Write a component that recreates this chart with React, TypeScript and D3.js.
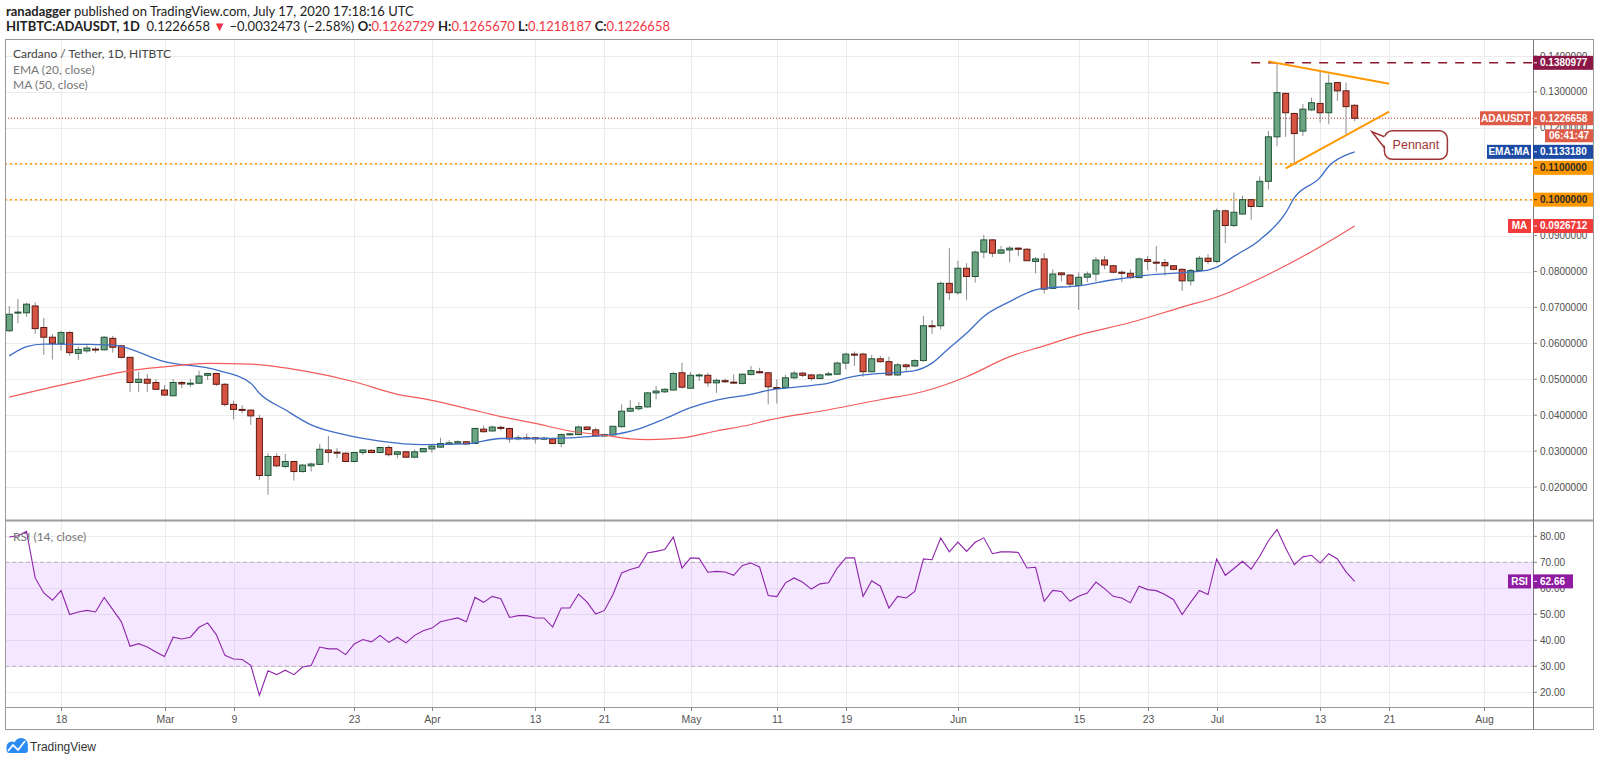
'use client'
import React, { useEffect, useRef } from 'react';
import * as d3 from 'd3';

// HITBTC ADA/USDT daily candles, 12 Feb 2020 -> 17 Jul 2020
const firstDay = '2020-02-12';

const opens = [
  0.0635, 0.0685, 0.0685, 0.0704, 0.0644, 0.0617, 0.0600, 0.0630, 0.0572, 0.0579,
  0.0584, 0.0582, 0.0614, 0.0593, 0.0561, 0.0491, 0.0500, 0.0491, 0.0470, 0.0454,
  0.0491, 0.0487, 0.0489, 0.0511, 0.0516, 0.0486, 0.0430, 0.0416, 0.0414, 0.0391,
  0.0232, 0.0285, 0.0257, 0.0271, 0.0243, 0.0259, 0.0263, 0.0303, 0.0297, 0.0294,
  0.0271, 0.0296, 0.0302, 0.0296, 0.0310, 0.0291, 0.0298, 0.0283, 0.0298, 0.0306,
  0.0311, 0.0319, 0.0322, 0.0326, 0.0321, 0.0361, 0.0356, 0.0366, 0.0363, 0.0334,
  0.0337, 0.0337, 0.0334, 0.0334, 0.0321, 0.0346, 0.0346, 0.0367, 0.0359, 0.0342,
  0.0345, 0.0368, 0.0411, 0.0418, 0.0423, 0.0462, 0.0465, 0.0470, 0.0518, 0.0475,
  0.0510, 0.0511, 0.0490, 0.0496, 0.0492, 0.0488, 0.0513, 0.0521, 0.0518, 0.0477,
  0.0477, 0.0504, 0.0517, 0.0512, 0.0502, 0.0512, 0.0514, 0.0545, 0.0570, 0.0570,
  0.0521, 0.0557, 0.0549, 0.0512, 0.0540, 0.0537, 0.0552, 0.0649, 0.0649, 0.0767,
  0.0741, 0.0809, 0.0786, 0.0854, 0.0888, 0.0851, 0.0860, 0.0865, 0.0862, 0.0828,
  0.0835, 0.0753, 0.0796, 0.0790, 0.0761, 0.0784, 0.0793, 0.0832, 0.0816, 0.0798,
  0.0795, 0.0783, 0.0833, 0.0826, 0.0825, 0.0816, 0.0806, 0.0774, 0.0803, 0.0837,
  0.0828, 0.0969, 0.0928, 0.0960, 0.1000, 0.0981, 0.1051, 0.1175, 0.1296, 0.1240,
  0.1191, 0.1250, 0.1268, 0.1242, 0.1326, 0.1303, 0.1262729,
];
const highs = [
  0.0704, 0.0723, 0.0713, 0.0714, 0.0671, 0.0626, 0.0635, 0.0634, 0.0591, 0.0598,
  0.0591, 0.0621, 0.0621, 0.0596, 0.0561, 0.0521, 0.0514, 0.0500, 0.0484, 0.0500,
  0.0495, 0.0501, 0.0524, 0.0518, 0.0518, 0.0489, 0.0440, 0.0428, 0.0416, 0.0401,
  0.0294, 0.0294, 0.0292, 0.0273, 0.0264, 0.0268, 0.0320, 0.0342, 0.0308, 0.0297,
  0.0298, 0.0305, 0.0305, 0.0312, 0.0316, 0.0301, 0.0300, 0.0305, 0.0309, 0.0319,
  0.0337, 0.0330, 0.0330, 0.0328, 0.0365, 0.0371, 0.0371, 0.0371, 0.0365, 0.0344,
  0.0349, 0.0337, 0.0340, 0.0337, 0.0349, 0.0351, 0.0371, 0.0368, 0.0365, 0.0349,
  0.0370, 0.0430, 0.0442, 0.0437, 0.0464, 0.0481, 0.0475, 0.0520, 0.0546, 0.0520,
  0.0516, 0.0518, 0.0502, 0.0502, 0.0514, 0.0516, 0.0537, 0.0532, 0.0518, 0.0500,
  0.0512, 0.0524, 0.0521, 0.0515, 0.0515, 0.0521, 0.0549, 0.0574, 0.0577, 0.0574,
  0.0568, 0.0565, 0.0563, 0.0545, 0.0543, 0.0556, 0.0676, 0.0665, 0.0772, 0.0865,
  0.0830, 0.0823, 0.0858, 0.0902, 0.0890, 0.0871, 0.0871, 0.0868, 0.0865, 0.0840,
  0.0851, 0.0806, 0.0798, 0.0793, 0.0798, 0.0800, 0.0840, 0.0843, 0.0818, 0.0803,
  0.0806, 0.0839, 0.0843, 0.0871, 0.0835, 0.0818, 0.0809, 0.0807, 0.0843, 0.0848,
  0.0975, 0.0972, 0.1020, 0.1011, 0.1002, 0.1065, 0.1191, 0.1380977, 0.1298, 0.1242,
  0.1266, 0.1284, 0.1359, 0.1349, 0.1328, 0.1326, 0.1265670,
];
const lows = [
  0.0632, 0.0656, 0.0674, 0.0626, 0.0568, 0.0555, 0.0580, 0.0565, 0.0554, 0.0574,
  0.0574, 0.0580, 0.0574, 0.0558, 0.0465, 0.0465, 0.0465, 0.0470, 0.0453, 0.0453,
  0.0475, 0.0478, 0.0487, 0.0498, 0.0481, 0.0424, 0.0388, 0.0405, 0.0373, 0.0220,
  0.0178, 0.0255, 0.0252, 0.0218, 0.0240, 0.0243, 0.0261, 0.0268, 0.0280, 0.0269,
  0.0268, 0.0289, 0.0294, 0.0294, 0.0285, 0.0280, 0.0281, 0.0280, 0.0297, 0.0295,
  0.0309, 0.0318, 0.0320, 0.0318, 0.0320, 0.0351, 0.0355, 0.0357, 0.0323, 0.0330,
  0.0332, 0.0321, 0.0330, 0.0320, 0.0311, 0.0344, 0.0344, 0.0358, 0.0341, 0.0340,
  0.0344, 0.0365, 0.0410, 0.0413, 0.0421, 0.0444, 0.0462, 0.0469, 0.0474, 0.0474,
  0.0495, 0.0479, 0.0462, 0.0490, 0.0488, 0.0486, 0.0511, 0.0516, 0.0430, 0.0432,
  0.0475, 0.0500, 0.0506, 0.0496, 0.0501, 0.0510, 0.0512, 0.0528, 0.0537, 0.0507,
  0.0519, 0.0546, 0.0510, 0.0509, 0.0522, 0.0534, 0.0549, 0.0626, 0.0639, 0.0721,
  0.0735, 0.0721, 0.0769, 0.0837, 0.0840, 0.0849, 0.0825, 0.0843, 0.0829, 0.0795,
  0.0739, 0.0751, 0.0772, 0.0755, 0.0693, 0.0770, 0.0772, 0.0806, 0.0795, 0.0770,
  0.0779, 0.0781, 0.0803, 0.0800, 0.0788, 0.0803, 0.0746, 0.0761, 0.0802, 0.0820,
  0.0823, 0.0879, 0.0924, 0.0958, 0.0944, 0.0979, 0.1028, 0.1149, 0.1175, 0.1102,
  0.1177, 0.1247, 0.1214, 0.1210, 0.1275, 0.1182, 0.1218187,
];
const closes = [
  0.0681, 0.0687, 0.0709, 0.0641, 0.0617, 0.0600, 0.0630, 0.0574, 0.0583, 0.0587,
  0.0582, 0.0617, 0.0589, 0.0561, 0.0491, 0.0500, 0.0489, 0.0472, 0.0456, 0.0491,
  0.0487, 0.0489, 0.0509, 0.0516, 0.0486, 0.0430, 0.0416, 0.0414, 0.0398, 0.0232,
  0.0285, 0.0259, 0.0271, 0.0243, 0.0261, 0.0264, 0.0305, 0.0296, 0.0295, 0.0271,
  0.0296, 0.0303, 0.0296, 0.0310, 0.0290, 0.0298, 0.0283, 0.0298, 0.0307, 0.0314,
  0.0321, 0.0323, 0.0326, 0.0320, 0.0363, 0.0354, 0.0367, 0.0364, 0.0334, 0.0337,
  0.0335, 0.0334, 0.0336, 0.0321, 0.0346, 0.0348, 0.0367, 0.0360, 0.0342, 0.0346,
  0.0369, 0.0411, 0.0419, 0.0424, 0.0462, 0.0467, 0.0472, 0.0516, 0.0478, 0.0511,
  0.0512, 0.0490, 0.0497, 0.0493, 0.0490, 0.0514, 0.0524, 0.0518, 0.0479, 0.0475,
  0.0504, 0.0517, 0.0511, 0.0502, 0.0512, 0.0515, 0.0545, 0.0570, 0.0569, 0.0521,
  0.0557, 0.0549, 0.0512, 0.0540, 0.0535, 0.0552, 0.0649, 0.0647, 0.0767, 0.0741,
  0.0809, 0.0786, 0.0854, 0.0888, 0.0851, 0.0860, 0.0865, 0.0862, 0.0830, 0.0835,
  0.0751, 0.0793, 0.0791, 0.0765, 0.0784, 0.0793, 0.0832, 0.0818, 0.0798, 0.0795,
  0.0783, 0.0835, 0.0828, 0.0825, 0.0816, 0.0806, 0.0774, 0.0803, 0.0837, 0.0828,
  0.0969, 0.0928, 0.0965, 0.1000, 0.0981, 0.1051, 0.1175, 0.1298, 0.1242, 0.1184,
  0.1252, 0.1270, 0.1242, 0.1324, 0.1303, 0.1259, 0.1226658,
];

const rsiValues = [
  79.7, 80.2, 81.9, 64.0, 58.2, 55.4, 59.1, 49.9, 50.9, 51.5,
  50.9, 56.5, 51.8, 47.1, 37.7, 38.7, 37.4, 35.5, 33.8, 41.2,
  40.5, 41.2, 45.0, 46.7, 42.2, 34.2, 32.8, 32.6, 30.4, 18.8,
  28.3, 26.8, 28.5, 26.8, 29.7, 30.3, 37.4, 36.7, 36.7, 34.5,
  38.6, 40.3, 39.4, 41.9, 39.2, 41.2, 39.0, 41.9, 43.7, 44.7,
  47.1, 47.9, 48.6, 47.1, 56.5, 54.6, 56.9, 56.0, 48.8, 49.5,
  49.5, 48.6, 48.6, 45.1, 52.4, 52.4, 57.8, 54.7, 50.1, 51.5,
  57.6, 65.9, 67.2, 68.2, 73.6, 74.2, 74.9, 79.7, 67.8, 71.7,
  71.5, 66.2, 66.5, 66.3, 65.0, 68.8, 69.7, 68.2, 57.2, 56.8,
  62.1, 64.0, 62.3, 59.7, 61.7, 62.1, 67.8, 71.7, 71.7, 56.9,
  62.9, 60.8, 52.4, 56.9, 56.3, 58.8, 71.3, 71.0, 79.4, 74.0,
  77.8, 74.2, 77.7, 79.4, 73.3, 74.0, 74.0, 73.8, 67.8, 68.1,
  55.0, 59.2, 58.8, 55.0, 56.9, 58.2, 62.4, 59.9, 56.9, 56.3,
  54.4, 60.8, 59.5, 59.1, 57.6, 55.6, 49.9, 54.7, 59.2, 57.6,
  71.3, 65.0, 67.6, 70.4, 67.4, 72.3, 78.3, 82.6, 75.5, 69.1,
  72.1, 72.7, 69.7, 73.3, 71.3, 66.3, 62.66,
];

// EMA 20 and MA 50 (day offset from firstDay, value)
const emaOffsets = [0, 2, 4, 9, 12, 13, 18, 24, 28, 29, 32, 35, 39, 43, 48, 53, 57, 61, 65, 69, 70, 73, 76, 79, 82, 86, 88, 92, 95, 97, 99, 103, 105, 107, 109, 111, 113, 116, 119, 120, 124, 128, 132, 136, 139, 140, 142, 145, 148, 149, 152, 153, 155, 156];
const emaValues = [0.0565, 0.0591, 0.0598, 0.0597, 0.0595, 0.0591, 0.0549, 0.0526, 0.0489, 0.0461, 0.0415, 0.0373, 0.0345, 0.0328, 0.0318, 0.0320, 0.0335, 0.0335, 0.0337, 0.0344, 0.0346, 0.0362, 0.0390, 0.0421, 0.0442, 0.0458, 0.0469, 0.0480, 0.0489, 0.0503, 0.0512, 0.0519, 0.0524, 0.0545, 0.0587, 0.0628, 0.0675, 0.0716, 0.0749, 0.0753, 0.0760, 0.0777, 0.0790, 0.0797, 0.0804, 0.0812, 0.0842, 0.0888, 0.0963, 0.1005, 0.1062, 0.1093, 0.1124, 0.1133180];
const maOffsets = [0, 7, 14, 19, 23, 28, 34, 40, 45, 48, 53, 57, 61, 65, 69, 72, 74, 78, 82, 86, 88, 95, 101, 106, 111, 116, 120, 124, 130, 136, 140, 147, 152, 156];
const maValues = [0.0450, 0.0489, 0.0524, 0.0537, 0.0544, 0.0542, 0.0524, 0.0493, 0.0458, 0.0446, 0.0419, 0.0396, 0.0377, 0.0356, 0.0344, 0.0334, 0.0332, 0.0337, 0.0356, 0.0374, 0.0386, 0.0415, 0.0443, 0.0466, 0.0507, 0.0563, 0.0593, 0.0623, 0.0658, 0.0701, 0.0729, 0.0804, 0.0869, 0.0926712];

const tickDates = ['2020-02-18', '2020-03-01', '2020-03-09', '2020-03-23', '2020-04-01', '2020-04-13', '2020-04-21', '2020-05-01', '2020-05-11', '2020-05-19', '2020-06-01', '2020-06-15', '2020-06-23', '2020-07-01', '2020-07-13', '2020-07-21', '2020-08-01'];
const tickLabels = ['18', 'Mar', '9', '23', 'Apr', '13', '21', 'May', '11', '19', 'Jun', '15', '23', 'Jul', '13', '21', 'Aug'];
const priceTicks = [0.02, 0.03, 0.04, 0.05, 0.06, 0.07, 0.08, 0.09, 0.10, 0.11, 0.12, 0.13, 0.14];
const rsiTicks = [20, 30, 40, 50, 60, 70, 80];

// drawings on the chart
const supportLevels = [0.11, 0.10];
const resistance = { from: '2020-07-05', value: 0.1380977 };
const pennantUpper = [['2020-07-07', 0.1385], ['2020-07-21', 0.1323]] as [string, number][];
const pennantLower = [['2020-07-09', 0.1087], ['2020-07-21', 0.1245]] as [string, number][];
const calloutTip = ['2020-07-19', 0.1189] as [string, number];

export default function App() {
  const ref = useRef<SVGSVGElement | null>(null);

  useEffect(() => {
    const svg = d3.select(ref.current);
    svg.selectAll('*').remove();
    const width = 1600, height = 763;
    const left = 5, axisX = 1533, edge = 1594, top = 39, split = 520, rsiBottom = 707, bottom = 730;
    const font = "'Liberation Sans', Arial, sans-serif";
    const textFont = "Lato, 'Liberation Sans', sans-serif";

    const parse = d3.utcParse('%Y-%m-%d');
    const start = parse(firstDay) as Date;
    const day = (i: number) => d3.utcDay.offset(start, i);
    const x = d3.scaleUtc().domain([start, parse('2020-08-01') as Date]).range([9.3, 1484]);
    const y = d3.scaleLinear().domain([0.02, 0.14]).range([487, 56]);
    const yr = d3.scaleLinear().domain([20, 80]).range([692.3, 536.3]);
    const fmt = d3.format('.7f');

    svg.attr('viewBox', `0 0 ${width} ${height}`);
    svg.append('rect').attr('width', width).attr('height', height).attr('fill', '#fff');

    // header
    const h1 = svg.append('text').attr('x', 6).attr('y', 16).attr('font-family', textFont)
      .attr('font-size', 13).attr('fill', '#222');
    h1.append('tspan').attr('font-weight', 'bold').text('ranadagger');
    h1.append('tspan').text(' published on TradingView.com, July 17, 2020 17:18:16 UTC');

    const h2 = svg.append('text').attr('x', 6).attr('y', 31).attr('font-family', textFont)
      .attr('font-size', 13).attr('fill', '#222');
    const red = '#f23645';
    h2.append('tspan').attr('font-weight', 'bold').text('HITBTC:ADAUSDT, 1D');
    h2.append('tspan').text('\u00a0 0.1226658 ');
    h2.append('tspan').attr('fill', red).text('▼');
    h2.append('tspan').text(' −0.0032473 (−2.58%) ');
    [['O:', '0.1262729'], ['H:', '0.1265670'], ['L:', '0.1218187'], ['C:', '0.1226658']].forEach(([k, v], i) => {
      h2.append('tspan').attr('font-weight', 'bold').text((i ? ' ' : '') + k);
      h2.append('tspan').attr('fill', red).text(v);
    });

    // grid
    const grid = svg.append('g').attr('stroke', '#ececec').attr('stroke-width', 1);
    grid.selectAll('line.v').data(tickDates).join('line')
      .attr('x1', d => Math.round(x(parse(d) as Date)) + 0.5).attr('x2', d => Math.round(x(parse(d) as Date)) + 0.5)
      .attr('y1', top).attr('y2', rsiBottom);
    grid.selectAll('line.p').data(priceTicks).join('line')
      .attr('x1', left).attr('x2', axisX)
      .attr('y1', d => Math.round(y(d)) + 0.5).attr('y2', d => Math.round(y(d)) + 0.5);
    grid.selectAll('line.r').data(rsiTicks).join('line')
      .attr('x1', left).attr('x2', axisX)
      .attr('y1', d => Math.round(yr(d)) + 0.5).attr('y2', d => Math.round(yr(d)) + 0.5);

    // RSI band
    svg.append('rect').attr('x', left).attr('width', axisX - left)
      .attr('y', yr(70)).attr('height', yr(30) - yr(70)).attr('fill', '#9915ff').attr('fill-opacity', 0.1);
    [70, 30].forEach(v => {
      svg.append('line').attr('x1', left).attr('x2', axisX).attr('y1', yr(v)).attr('y2', yr(v))
        .attr('stroke', '#b9aebf').attr('stroke-dasharray', '4,3');
    });

    // horizontal levels
    supportLevels.forEach(v => {
      svg.append('line').attr('x1', left).attr('x2', axisX).attr('y1', y(v)).attr('y2', y(v))
        .attr('stroke', '#ff9800').attr('stroke-width', 1.5).attr('stroke-dasharray', '2,3');
    });
    const lastClose = closes[closes.length - 1];
    svg.append('line').attr('x1', left).attr('x2', axisX).attr('y1', y(lastClose)).attr('y2', y(lastClose))
      .attr('stroke', '#c9302c').attr('stroke-width', 1).attr('stroke-dasharray', '1,2');

    // candles
    const candles = closes.map((c, i) => ({ date: day(i), o: opens[i], h: highs[i], l: lows[i], c }));
    const cg = svg.append('g');
    cg.selectAll('line').data(candles).join('line')
      .attr('x1', d => x(d.date)).attr('x2', d => x(d.date))
      .attr('y1', d => y(d.h)).attr('y2', d => y(d.l))
      .attr('stroke', '#8d8d8f').attr('stroke-width', 1);
    cg.selectAll('rect').data(candles).join('rect')
      .attr('x', d => x(d.date) - 3).attr('width', 6)
      .attr('y', d => y(Math.max(d.o, d.c)))
      .attr('height', d => Math.max(1, Math.abs(y(d.o) - y(d.c))))
      .attr('fill', d => d.c >= d.o ? '#6ba583' : '#d75442')
      .attr('stroke', d => d.c >= d.o ? '#225437' : '#5b1a13')
      .attr('stroke-width', 1);

    // EMA and MA
    const line = d3.line<[number, number]>()
      .x(d => x(day(d[0]))).y(d => y(d[1])).curve(d3.curveMonotoneX);
    svg.append('path').datum(emaOffsets.map((o, i) => [o, emaValues[i]] as [number, number]))
      .attr('d', line).attr('fill', 'none').attr('stroke', '#3f6ec6').attr('stroke-width', 1.3);
    svg.append('path').datum(maOffsets.map((o, i) => [o, maValues[i]] as [number, number]))
      .attr('d', line).attr('fill', 'none').attr('stroke', '#f45b5b').attr('stroke-width', 1.2);

    // resistance and pennant
    svg.append('line').attr('x1', x(parse(resistance.from) as Date)).attr('x2', axisX)
      .attr('y1', y(resistance.value)).attr('y2', y(resistance.value))
      .attr('stroke', '#8b1a2e').attr('stroke-width', 1.5).attr('stroke-dasharray', '9,8');
    const drawLine = d3.line<[string, number]>().x(d => x(parse(d[0]) as Date)).y(d => y(d[1]));
    [pennantUpper, pennantLower].forEach(pts => {
      svg.append('path').datum(pts).attr('d', drawLine).attr('fill', 'none')
        .attr('stroke', '#ff9800').attr('stroke-width', 2);
    });

    // callout
    const tipX = x(parse(calloutTip[0]) as Date), tipY = y(calloutTip[1]);
    const bx = tipX + 12.5, by = tipY - 1, bw = 63, bh = 28.5;
    const calloutColor = '#9e3434';
    svg.append('rect').attr('x', bx).attr('y', by).attr('width', bw).attr('height', bh)
      .attr('rx', 8).attr('fill', '#fff').attr('stroke', calloutColor).attr('stroke-width', 1.5);
    svg.append('polygon').attr('points', `${bx + 2},${by + 6} ${tipX},${tipY} ${bx + 2},${by + 17}`).attr('fill', '#fff');
    svg.append('path').attr('d', `M${bx},${by + 6} L${tipX},${tipY} L${bx},${by + 17}`)
      .attr('fill', 'none').attr('stroke', calloutColor).attr('stroke-width', 1.5);
    svg.append('text').attr('x', bx + bw / 2).attr('y', by + bh / 2).attr('text-anchor', 'middle')
      .attr('dominant-baseline', 'central').attr('font-family', font).attr('font-size', 12.5)
      .attr('fill', calloutColor).text('Pennant');

    // RSI
    const rsiLine = d3.line<number>().x((_, i) => x(day(i))).y(d => yr(d));
    svg.append('path').datum(rsiValues).attr('d', rsiLine).attr('fill', 'none')
      .attr('stroke', '#8e24aa').attr('stroke-width', 1.1);

    // frames
    const frame = svg.append('g').attr('stroke', '#9b9b9b').attr('fill', 'none');
    frame.append('rect').attr('x', left + 0.5).attr('y', top + 0.5).attr('width', edge - left - 1).attr('height', bottom - top - 1);
    frame.append('line').attr('x1', left).attr('x2', edge).attr('y1', split + 0.5).attr('y2', split + 0.5).attr('stroke-width', 2);
    frame.append('line').attr('x1', left).attr('x2', edge).attr('y1', rsiBottom + 0.5).attr('y2', rsiBottom + 0.5);
    frame.append('line').attr('x1', axisX + 0.5).attr('x2', axisX + 0.5).attr('y1', top).attr('y2', bottom).attr('stroke', '#7a7a7a');

    // price axis (levels that carry their own tag are not repeated as plain text)
    const axisG = svg.append('g').attr('font-family', font).attr('font-size', 10).attr('fill', '#4f4f4f');
    priceTicks.forEach(v => {
      axisG.append('line').attr('x1', axisX).attr('x2', axisX + 4).attr('y1', y(v)).attr('y2', y(v)).attr('stroke', '#888');
      if (supportLevels.includes(v)) return;
      axisG.append('text').attr('x', axisX + 7).attr('y', y(v)).attr('dominant-baseline', 'central').text(fmt(v));
    });
    rsiTicks.forEach(v => {
      axisG.append('line').attr('x1', axisX).attr('x2', axisX + 4).attr('y1', yr(v)).attr('y2', yr(v)).attr('stroke', '#888');
      axisG.append('text').attr('x', axisX + 7).attr('y', yr(v)).attr('dominant-baseline', 'central').text(v.toFixed(2));
    });

    const tag = (cy: number, text: string, fill: string, color: string, x0 = axisX, x1 = edge - 1) => {
      svg.append('rect').attr('x', x0).attr('y', cy - 7).attr('width', x1 - x0).attr('height', 14).attr('fill', fill);
      if (x0 === axisX) {
        svg.append('line').attr('x1', axisX + 1).attr('x2', axisX + 4).attr('y1', cy).attr('y2', cy).attr('stroke', color);
      }
      svg.append('text').attr('x', x0 === axisX ? axisX + 7 : (x0 + x1) / 2).attr('y', cy)
        .attr('text-anchor', x0 === axisX ? 'start' : 'middle').attr('dominant-baseline', 'central')
        .attr('font-family', font).attr('font-size', 10).attr('font-weight', 'bold').attr('fill', color).text(text);
    };
    const emaLast = emaValues[emaValues.length - 1];
    const maLast = maValues[maValues.length - 1];
    tag(y(resistance.value), fmt(resistance.value), '#8b1846', '#fff');
    tag(y(lastClose), fmt(lastClose), '#de5b48', '#fff');
    tag(y(lastClose), 'ADAUSDT', '#de5b48', '#fff', 1480, 1531);
    svg.append('rect').attr('x', 1545).attr('y', y(lastClose) + 11).attr('width', 48).attr('height', 13).attr('fill', '#de5b48');
    svg.append('text').attr('x', 1569).attr('y', y(lastClose) + 17.5).attr('text-anchor', 'middle')
      .attr('dominant-baseline', 'central').attr('font-family', font).attr('font-size', 10)
      .attr('font-weight', 'bold').attr('fill', '#fff').text('06:41:47');
    tag(y(emaLast), fmt(emaLast), '#1c4aa5', '#fff');
    tag(y(emaLast), 'EMA:MA', '#1c4aa5', '#fff', 1487, 1531);
    tag(Math.max(y(0.11), y(emaLast) + 16), fmt(0.11), '#ff9800', '#2a2a2a');
    tag(y(0.10), fmt(0.10), '#ff9800', '#2a2a2a');
    tag(y(maLast), fmt(maLast), '#f23c3c', '#fff');
    tag(y(maLast), 'MA', '#f23c3c', '#fff', 1508, 1531);
    const rsiLast = rsiValues[rsiValues.length - 1];
    tag(yr(rsiLast), rsiLast.toFixed(2), '#8f1ca0', '#fff', axisX, 1573);
    tag(yr(rsiLast), 'RSI', '#8f1ca0', '#fff', 1508, 1531);

    // time axis
    const tg = svg.append('g').attr('font-family', font).attr('font-size', 10.5).attr('fill', '#555');
    tickDates.forEach((d, i) => {
      const tx = Math.round(x(parse(d) as Date)) + 0.5;
      tg.append('line').attr('x1', tx).attr('x2', tx).attr('y1', rsiBottom).attr('y2', rsiBottom + 4).attr('stroke', '#888');
      tg.append('text').attr('x', tx).attr('y', 719).attr('text-anchor', 'middle').attr('dominant-baseline', 'central').text(tickLabels[i]);
    });

    // legends
    const lg = svg.append('g').attr('font-family', textFont).attr('font-size', 12);
    lg.append('text').attr('x', 13).attr('y', 53).attr('dominant-baseline', 'central').attr('fill', '#444').text('Cardano / Tether, 1D, HITBTC');
    lg.append('text').attr('x', 13).attr('y', 69).attr('dominant-baseline', 'central').attr('fill', '#777').text('EMA (20, close)');
    lg.append('text').attr('x', 13).attr('y', 84).attr('dominant-baseline', 'central').attr('fill', '#777').text('MA (50, close)');
    lg.append('text').attr('x', 13).attr('y', 536).attr('dominant-baseline', 'central').attr('fill', '#777').text('RSI (14, close)');

    // footer logo
    const logo = svg.append('g');
    logo.append('circle').attr('cx', 12).attr('cy', 747).attr('r', 5.5).attr('fill', '#2a8bf2');
    logo.append('circle').attr('cx', 21).attr('cy', 745).attr('r', 7).attr('fill', '#2a8bf2');
    logo.append('rect').attr('x', 6.5).attr('y', 746).attr('width', 21.5).attr('height', 7).attr('rx', 3).attr('fill', '#2a8bf2');
    logo.append('polyline').attr('points', '8,751 13,745 18,750 25,741').attr('fill', 'none')
      .attr('stroke', '#fff').attr('stroke-width', 1.8);
    svg.append('text').attr('x', 30).attr('y', 747).attr('dominant-baseline', 'central')
      .attr('font-family', font).attr('font-size', 12).attr('fill', '#333').text('TradingView');
  }, []);

  return (
    <div style={{ position: 'absolute', left: 0, top: 0 }}>
      <svg ref={ref} width={1600} height={763} style={{ display: 'block' }} />
    </div>
  );
}
